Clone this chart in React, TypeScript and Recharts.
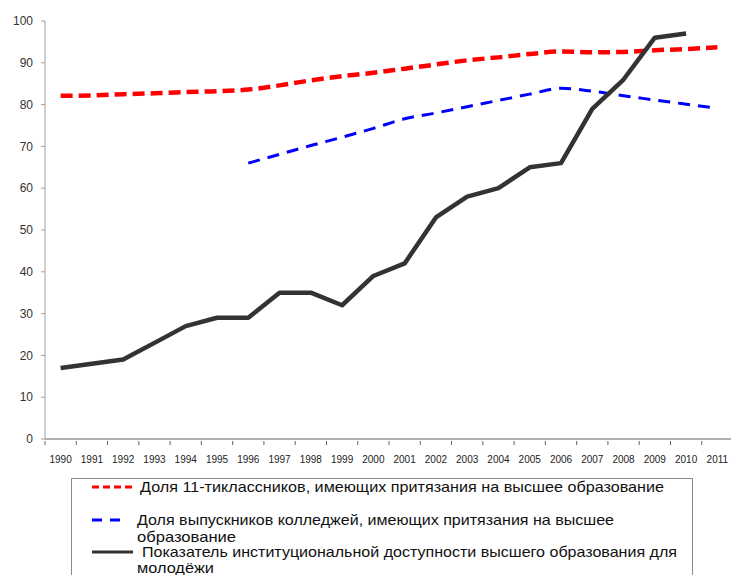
import React from "react";
import { LineChart, Line, XAxis, YAxis } from "recharts";

const years = ["1990","1991","1992","1993","1994","1995","1996","1997","1998","1999","2000","2001","2002","2003","2004","2005","2006","2007","2008","2009","2010","2011"];
const pupils: (number | null)[] = [82.1,82.2,82.5,82.7,83.0,83.2,83.6,84.6,85.8,86.8,87.6,88.6,89.6,90.6,91.3,92.1,92.7,92.5,92.6,93.0,93.3,93.7];
const college: (number | null)[] = [null,null,null,null,null,null,66.0,68.1,70.2,72.2,74.3,76.6,78.0,79.5,81.0,82.5,83.9,83.2,82.1,81.1,80.1,79.1];
const access: (number | null)[] = [17,18,19,23,27,29,29,35,35,32,39,42,53,58,60,65,66,79,86,96,97,null];
const yTicks = [0,10,20,30,40,50,60,70,80,90,100];

const seriesNames = [
  "Доля 11-тиклассников, имеющих притязания на высшее образование",
  "Доля выпускников колледжей, имеющих притязания на высшее образование",
  "Показатель институциональной доступности высшего образования для молодёжи",
];
const legendLines = [
  "Доля 11-тиклассников, имеющих притязания на высшее образование",
  "Доля выпускников колледжей, имеющих притязания на высшее",
  "образование",
  "Показатель институциональной доступности высшего образования для",
  "молодёжи",
];

const data = years.map((y, i) => ({ year: y, pupils: pupils[i], college: college[i], access: access[i] }));

const CHART_W = 733;
const LEFT = 45;
const RIGHT = 0;
const BAND = (CHART_W - LEFT - RIGHT) / years.length;
const FONT = "Liberation Sans, Arial, sans-serif";

const XTickMarks = (props: any) => {
  const { x, y, payload } = props;
  return (
    <g>
      <line x1={x - BAND / 2} x2={x - BAND / 2} y1={y - 6} y2={y - 2} stroke="#606060" strokeWidth={1} />
      <text x={x} y={y + 16} textAnchor="middle" fontSize={10} fill="#222" fontFamily={FONT}>
        {payload.value}
      </text>
    </g>
  );
};

const LegendBox = () => {
  const W = 622;
  const H = 110;
  return (
    <div style={{ position: "absolute", left: 71, top: 478, width: W, height: H, border: "1px solid #8a8a8a", background: "#fff", boxSizing: "border-box" }}>
      <svg width={W} height={H} style={{ position: "absolute", left: -1, top: -1 }}>
        <line x1={21} x2={62} y1={9} y2={9} stroke="#ff0000" strokeWidth={3} strokeDasharray="7 4" />
        <line x1={21} x2={54} y1={42} y2={42} stroke="#0000ff" strokeWidth={3} strokeDasharray="10 8" />
        <line x1={21} x2={62} y1={74} y2={74} stroke="#333" strokeWidth={3} />
        <text x={69} y={14} fontSize={14.5} fill="#111" fontFamily={FONT} textLength={524} lengthAdjust="spacingAndGlyphs">{legendLines[0]}</text>
        <text x={66} y={47} fontSize={14.5} fill="#111" fontFamily={FONT} textLength={477} lengthAdjust="spacingAndGlyphs">{legendLines[1]}</text>
        <text x={66} y={64} fontSize={14.5} fill="#111" fontFamily={FONT} textLength={99} lengthAdjust="spacingAndGlyphs">{legendLines[2]}</text>
        <text x={71} y={79} fontSize={14.5} fill="#111" fontFamily={FONT} textLength={535} lengthAdjust="spacingAndGlyphs">{legendLines[3]}</text>
        <text x={66} y={95} fontSize={14.5} fill="#111" fontFamily={FONT} textLength={77} lengthAdjust="spacingAndGlyphs">{legendLines[4]}</text>
      </svg>
    </div>
  );
};

export default function App() {
  return (
    <div style={{ position: "absolute", left: 0, top: 0, width: 731, height: 575, overflow: "hidden", background: "#fff" }}>
      <LineChart width={CHART_W} height={575} data={data} margin={{ top: 21, right: RIGHT, bottom: 106, left: 0 }}>
        <XAxis
          dataKey="year"
          scale="band"
          axisLine={{ stroke: "#606060", strokeWidth: 1 }}
          tickLine={false}
          tick={<XTickMarks />}
          interval={0}
          height={30}
        />
        <YAxis
          domain={[0, 100]}
          ticks={yTicks}
          interval={0}
          width={LEFT}
          axisLine={{ stroke: "#a0a0a0", strokeWidth: 1 }}
          tickLine={{ stroke: "#a0a0a0" }}
          tickSize={4}
          tickMargin={8}
          tick={{ fontSize: 12, fill: "#333", fontFamily: FONT }}
        />
        <Line dataKey="pupils" type="monotone" stroke="#ff0000" strokeWidth={4.5} strokeDasharray="12 6" dot={false} isAnimationActive={false} name={seriesNames[0]} />
        <Line dataKey="college" type="monotone" stroke="#0000ff" strokeWidth={3} strokeDasharray="12 8" dot={false} isAnimationActive={false} name={seriesNames[1]} />
        <Line dataKey="access" type="linear" stroke="#333333" strokeWidth={4.5} strokeLinejoin="round" dot={false} isAnimationActive={false} name={seriesNames[2]} />
      </LineChart>
      <LegendBox />
    </div>
  );
}
